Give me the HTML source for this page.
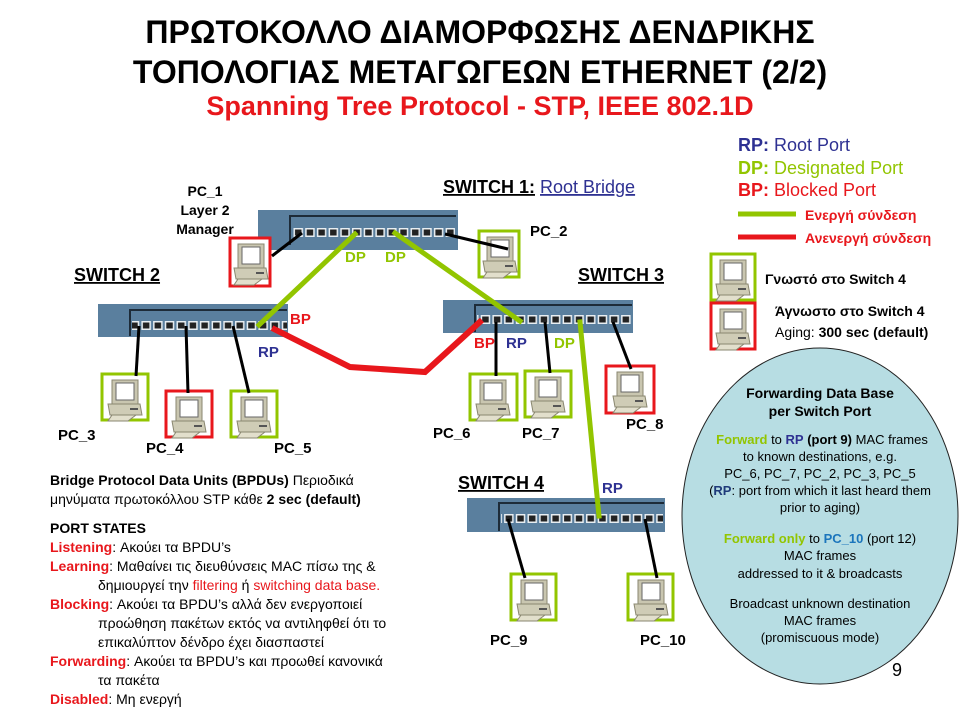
<!DOCTYPE html>
<html><head><meta charset="utf-8"><style>
body{margin:0;background:#fff;}
svg text{font-family:"Liberation Sans",Arial,sans-serif;}
</style></head><body>
<svg width="960" height="720" xmlns="http://www.w3.org/2000/svg">
<defs>
<g id="port"><rect x="1" y="0" width="9.5" height="9" fill="#e8eef2"/><rect x="2.5" y="1.5" width="6.5" height="6" fill="#222"/></g>
<pattern id="p1" x="0" y="228" width="11.7" height="100" patternUnits="userSpaceOnUse"><use href="#port"/></pattern>
<pattern id="p2" x="0" y="321" width="11.7" height="100" patternUnits="userSpaceOnUse"><use href="#port"/></pattern>
<pattern id="p3" x="0" y="315" width="11.7" height="100" patternUnits="userSpaceOnUse"><use href="#port"/></pattern>
<pattern id="p4" x="0" y="514" width="11.7" height="100" patternUnits="userSpaceOnUse"><use href="#port"/></pattern>
<g id="pc">
<rect x="8" y="5" width="26" height="24" fill="#c9c6b0" stroke="#8a8770" stroke-width="1"/>
<rect x="12" y="8" width="18" height="17" fill="#fff" stroke="#666" stroke-width="1"/>
<path d="M4 29 L36 29 L38 40 L6 40 Z" fill="#cfccb6" stroke="#8a8770"/>
<path d="M8 40 L32 40 L24 46 L4 46 Z" fill="#e2dfcc" stroke="#8a8770"/>
<rect x="26" y="33" width="8" height="2" fill="#555"/>
</g>
</defs>

<!-- Titles -->
<text x="480" y="43" font-size="32" font-weight="bold" text-anchor="middle">ΠΡΩΤΟΚΟΛΛΟ ΔΙΑΜΟΡΦΩΣΗΣ ΔΕΝΔΡΙΚΗΣ</text>
<text x="480" y="83" font-size="32" font-weight="bold" text-anchor="middle">ΤΟΠΟΛΟΓΙΑΣ ΜΕΤΑΓΩΓΕΩΝ ETHERNET (2/2)</text>
<text x="480" y="115" font-size="27" font-weight="bold" text-anchor="middle" fill="#e8171c">Spanning Tree Protocol - STP, IEEE 802.1D</text>

<!-- Legend -->
<text x="738" y="151" font-size="18" font-weight="bold" fill="#2e3192">RP: <tspan font-weight="normal">Root Port</tspan></text>
<text x="738" y="174" font-size="18" font-weight="bold" fill="#92c500">DP: <tspan font-weight="normal">Designated Port</tspan></text>
<text x="738" y="196" font-size="18" font-weight="bold" fill="#e8171c">BP: <tspan font-weight="normal">Blocked Port</tspan></text>
<line x1="738" y1="214" x2="796" y2="214" stroke="#92c500" stroke-width="5"/>
<text x="805" y="220" font-size="14" font-weight="bold" fill="#e8171c">Ενεργή σύνδεση</text>
<line x1="738" y1="237" x2="796" y2="237" stroke="#e8171c" stroke-width="5"/>
<text x="805" y="243" font-size="14" font-weight="bold" fill="#e8171c">Ανενεργή σύνδεση</text>
<rect x="711" y="254" width="44" height="46" fill="#fff" stroke="#92c500" stroke-width="3"/>
<use href="#pc" x="712" y="255"/>
<text x="765" y="284" font-size="14" font-weight="bold">Γνωστό στο Switch 4</text>
<rect x="711" y="303" width="44" height="46" fill="#fff" stroke="#e8171c" stroke-width="3"/>
<use href="#pc" x="712" y="304"/>
<text x="775" y="316" font-size="14" font-weight="bold">Άγνωστο στο Switch 4</text>
<text x="775" y="337" font-size="14">Aging: <tspan font-weight="bold">300 sec (default)</tspan></text>

<!-- Ellipse -->
<ellipse cx="820" cy="516" rx="138" ry="168" fill="#b7dde3" stroke="#222" stroke-width="1"/>
<g font-size="14" text-anchor="middle">
<text x="820" y="398" font-weight="bold">Forwarding Data Base</text>
<text x="820" y="416" font-weight="bold">per Switch Port</text>
<text x="822" y="444" font-size="13"><tspan fill="#92c500" font-weight="bold">Forward</tspan> to <tspan fill="#2e3192" font-weight="bold">RP</tspan> <tspan font-weight="bold">(port 9)</tspan> MAC frames</text>
<text x="820" y="461" font-size="13">to known destinations, e.g.</text>
<text x="820" y="478" font-size="13">PC_6, PC_7, PC_2, PC_3, PC_5</text>
<text x="820" y="495" font-size="13">(<tspan fill="#1f3a7a" font-weight="bold">RP</tspan>: port from which it last heard them</text>
<text x="820" y="512" font-size="13">prior to aging)</text>
<text x="820" y="543" font-size="13"><tspan fill="#92c500" font-weight="bold">Forward only</tspan>  to <tspan fill="#1b75bc" font-weight="bold">PC_10</tspan> (port 12)</text>
<text x="820" y="560" font-size="13">MAC frames</text>
<text x="820" y="578" font-size="13">addressed to it &amp; broadcasts</text>
<text x="820" y="608" font-size="13">Broadcast unknown destination</text>
<text x="820" y="625" font-size="13">MAC frames</text>
<text x="820" y="642" font-size="13">(promiscuous mode)</text>
</g>
<text x="892" y="676" font-size="18">9</text>

<!-- Switches -->
<g>
<rect x="258" y="210" width="200" height="40" fill="#5a7f9e"/>
<path d="M290 245 L290 216 L456 216" fill="none" stroke="#1d2b38" stroke-width="2"/>
<rect x="292" y="228" width="163" height="10" fill="url(#p1)"/>
</g>
<g>
<rect x="98" y="304" width="190" height="33" fill="#5a7f9e"/>
<path d="M130 336 L130 310 L287 310" fill="none" stroke="#1d2b38" stroke-width="2"/>
<rect x="132" y="321" width="155" height="10" fill="url(#p2)"/>
</g>
<g>
<rect x="443" y="300" width="190" height="33" fill="#5a7f9e"/>
<path d="M475 332 L475 305 L632 305" fill="none" stroke="#1d2b38" stroke-width="2"/>
<rect x="477" y="315" width="155" height="10" fill="url(#p3)"/>
</g>
<g>
<rect x="467" y="498" width="198" height="34" fill="#5a7f9e"/>
<path d="M499 531 L499 503 L664 503" fill="none" stroke="#1d2b38" stroke-width="2"/>
<rect x="501" y="514" width="162" height="10" fill="url(#p4)"/>
</g>

<!-- Labels -->
<text x="443" y="193" font-size="18" font-weight="bold"><tspan text-decoration="underline">SWITCH 1:</tspan> <tspan fill="#2e3192" text-decoration="underline" font-weight="normal">Root Bridge</tspan></text>
<text x="74" y="281" font-size="18" font-weight="bold" text-decoration="underline">SWITCH 2</text>
<text x="578" y="281" font-size="18" font-weight="bold" text-decoration="underline">SWITCH 3</text>
<text x="458" y="489" font-size="18" font-weight="bold" text-decoration="underline">SWITCH 4</text>
<g font-size="14" font-weight="bold" text-anchor="middle">
<text x="205" y="196">PC_1</text>
<text x="205" y="215">Layer 2</text>
<text x="205" y="234">Manager</text>
</g>

<!-- PC boxes -->
<rect x="230" y="238" width="40" height="48" fill="#fff" stroke="#e8171c" stroke-width="3"/><use href="#pc" x="230" y="239"/>
<rect x="479" y="231" width="40" height="46" fill="#fff" stroke="#92c500" stroke-width="3"/><use href="#pc" x="479" y="232"/>
<rect x="102" y="374" width="46" height="46" fill="#fff" stroke="#92c500" stroke-width="3"/><use href="#pc" x="104" y="375"/>
<rect x="166" y="391" width="46" height="46" fill="#fff" stroke="#e8171c" stroke-width="3"/><use href="#pc" x="168" y="392"/>
<rect x="231" y="391" width="46" height="46" fill="#fff" stroke="#92c500" stroke-width="3"/><use href="#pc" x="233" y="392"/>
<rect x="470" y="374" width="47" height="46" fill="#fff" stroke="#92c500" stroke-width="3"/><use href="#pc" x="472" y="375"/>
<rect x="525" y="371" width="46" height="46" fill="#fff" stroke="#92c500" stroke-width="3"/><use href="#pc" x="527" y="372"/>
<rect x="606" y="366" width="48" height="47" fill="#fff" stroke="#e8171c" stroke-width="3"/><use href="#pc" x="609" y="367"/>
<rect x="511" y="574" width="45" height="46" fill="#fff" stroke="#92c500" stroke-width="3"/><use href="#pc" x="513" y="575"/>
<rect x="628" y="574" width="45" height="46" fill="#fff" stroke="#92c500" stroke-width="3"/><use href="#pc" x="630" y="575"/>

<!-- PC cables -->
<g stroke="#000" stroke-width="3">
<line x1="302" y1="233" x2="272" y2="256"/>
<line x1="445" y1="234" x2="508" y2="249"/>
<line x1="139" y1="326" x2="136" y2="376"/>
<line x1="186" y1="326" x2="188" y2="393"/>
<line x1="233" y1="326" x2="249" y2="393"/>
<line x1="496" y1="322" x2="496" y2="376"/>
<line x1="545" y1="322" x2="550" y2="373"/>
<line x1="613" y1="322" x2="631" y2="369"/>
<line x1="508" y1="519" x2="525" y2="578"/>
<line x1="645" y1="519" x2="657" y2="578"/>
</g>

<!-- Links -->
<g stroke="#92c500" stroke-width="5" stroke-linecap="square">
<line x1="355" y1="234" x2="259" y2="325"/>
<line x1="395" y1="233" x2="520" y2="321"/>
<line x1="580" y1="322" x2="599" y2="516"/>
</g>
<polyline points="272,328 350,367 425,372 482,320" fill="none" stroke="#e8171c" stroke-width="6"/>

<!-- Port labels -->
<g font-size="15" font-weight="bold">
<text x="345" y="262" fill="#92c500">DP</text>
<text x="385" y="262" fill="#92c500">DP</text>
<text x="290" y="324" fill="#e8171c">BP</text>
<text x="258" y="357" fill="#2e3192">RP</text>
<text x="474" y="348" fill="#e8171c">BP</text>
<text x="506" y="348" fill="#2e3192">RP</text>
<text x="554" y="348" fill="#92c500">DP</text>
<text x="602" y="493" fill="#2e3192">RP</text>
</g>

<!-- PC labels -->
<g font-size="15" font-weight="bold">
<text x="530" y="236">PC_2</text>
<text x="58" y="440">PC_3</text>
<text x="146" y="453">PC_4</text>
<text x="274" y="453">PC_5</text>
<text x="433" y="438">PC_6</text>
<text x="522" y="438">PC_7</text>
<text x="626" y="429">PC_8</text>
<text x="490" y="645">PC_9</text>
<text x="640" y="645">PC_10</text>
</g>

<!-- Left text -->
<g font-size="14">
<text x="50" y="485"><tspan font-weight="bold">Bridge Protocol Data Units (BPDUs)</tspan> Περιοδικά</text>
<text x="50" y="504">μηνύματα πρωτοκόλλου STP κάθε <tspan font-weight="bold">2 sec (default)</tspan></text>
<text x="50" y="533" font-weight="bold">PORT STATES</text>
<text x="50" y="552"><tspan fill="#e8171c" font-weight="bold">Listening</tspan>: Ακούει τα BPDU’s</text>
<text x="50" y="571"><tspan fill="#e8171c" font-weight="bold">Learning</tspan>: Μαθαίνει τις διευθύνσεις MAC πίσω της &amp;</text>
<text x="98" y="590">δημιουργεί την <tspan fill="#e8171c">filtering</tspan> ή <tspan fill="#e8171c">switching data base.</tspan></text>
<text x="50" y="609"><tspan fill="#e8171c" font-weight="bold">Blocking</tspan>: Ακούει τα BPDU’s αλλά δεν ενεργοποιεί</text>
<text x="98" y="628">προώθηση πακέτων εκτός να αντιληφθεί ότι το</text>
<text x="98" y="647">επικαλύπτον δένδρο έχει διασπαστεί</text>
<text x="50" y="666"><tspan fill="#e8171c" font-weight="bold">Forwarding</tspan>: Ακούει τα BPDU’s και προωθεί κανονικά</text>
<text x="98" y="685">τα πακέτα</text>
<text x="50" y="704"><tspan fill="#e8171c" font-weight="bold">Disabled</tspan>: Μη ενεργή</text>
</g>
</svg>
</body></html>
